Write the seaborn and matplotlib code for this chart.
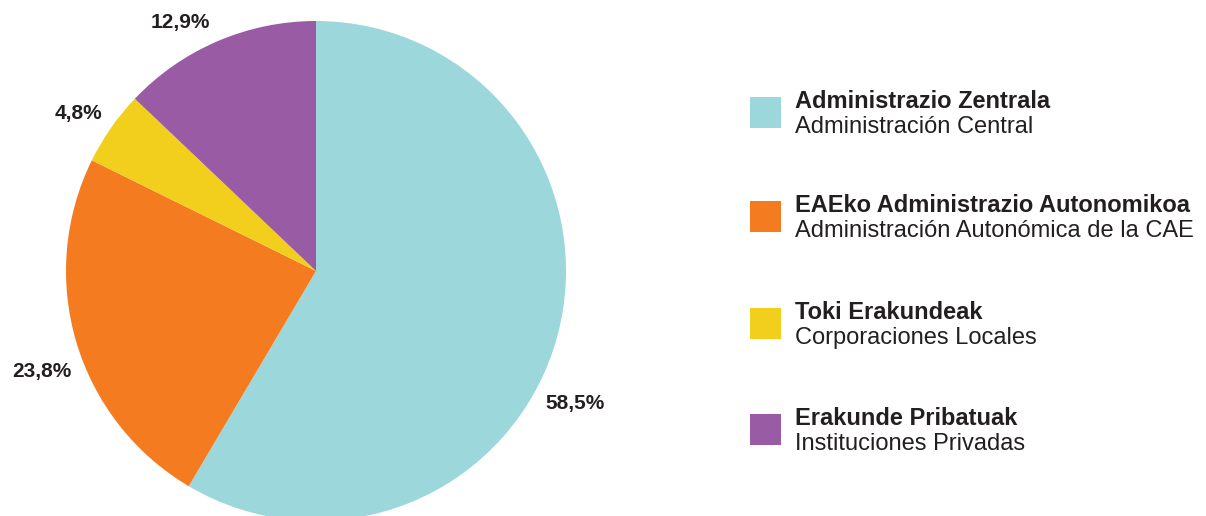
import matplotlib
matplotlib.use('Agg')
import matplotlib.pyplot as plt
import seaborn as sns
from matplotlib.patches import Rectangle

sns.set_theme(style='white')
plt.rcParams['font.family'] = ['Liberation Sans', 'DejaVu Sans']

# data
shares = [58.5, 23.8, 4.8, 12.9]
labels_eu = ['Administrazio Zentrala', 'EAEko Administrazio Autonomikoa',
             'Toki Erakundeak', 'Erakunde Pribatuak']
labels_es = ['Administración Central', 'Administración Autonómica de la CAE',
             'Corporaciones Locales', 'Instituciones Privadas']
colors = sns.color_palette(['#9BD7DB', '#F47B20', '#F2CE1D', '#9A5BA5'])
pct_text = ['58,5%', '23,8%', '4,8%', '12,9%']

# label positions in pie units (radius = 1)
label_pos = [(1.036, -0.528), (-1.096, -0.404), (-0.952, 0.632), (-0.544, 0.996)]

W, H = 1206, 516
fig = plt.figure(figsize=(W / 100, H / 100), dpi=100)

cx, cy, r = 316, 271, 250
ax = fig.add_axes([(cx - r) / W, (H - cy - r) / H, 2 * r / W, 2 * r / H])
ax.pie(shares, colors=colors, startangle=90, counterclock=False, radius=1,
       wedgeprops=dict(linewidth=0))
ax.set_xlim(-1, 1)
ax.set_ylim(-1, 1)
ax.set_aspect('equal')
ax.axis('off')

txt_col = '#231F20'
for (x, y), t in zip(label_pos, pct_text):
    ax.text(x, y, t, ha='center', va='center', fontsize=15, fontweight='bold',
            color=txt_col, clip_on=False)

# legend drawn by hand: two-line labels
lax = fig.add_axes([0, 0, 1, 1])
lax.set_xlim(0, W)
lax.set_ylim(H, 0)
lax.axis('off')
sq_top = [97, 201, 308, 414]
for top, c, eu, es in zip(sq_top, colors, labels_eu, labels_es):
    lax.add_patch(Rectangle((750, top), 31, 31, facecolor=c, edgecolor='none'))
    lax.text(795, top + 11, eu, fontsize=17, fontweight='bold', color=txt_col,
             va='baseline')
    lax.text(795, top + 36, es, fontsize=17, color=txt_col, va='baseline')

fig.savefig('out.png', dpi=100, facecolor='white')
